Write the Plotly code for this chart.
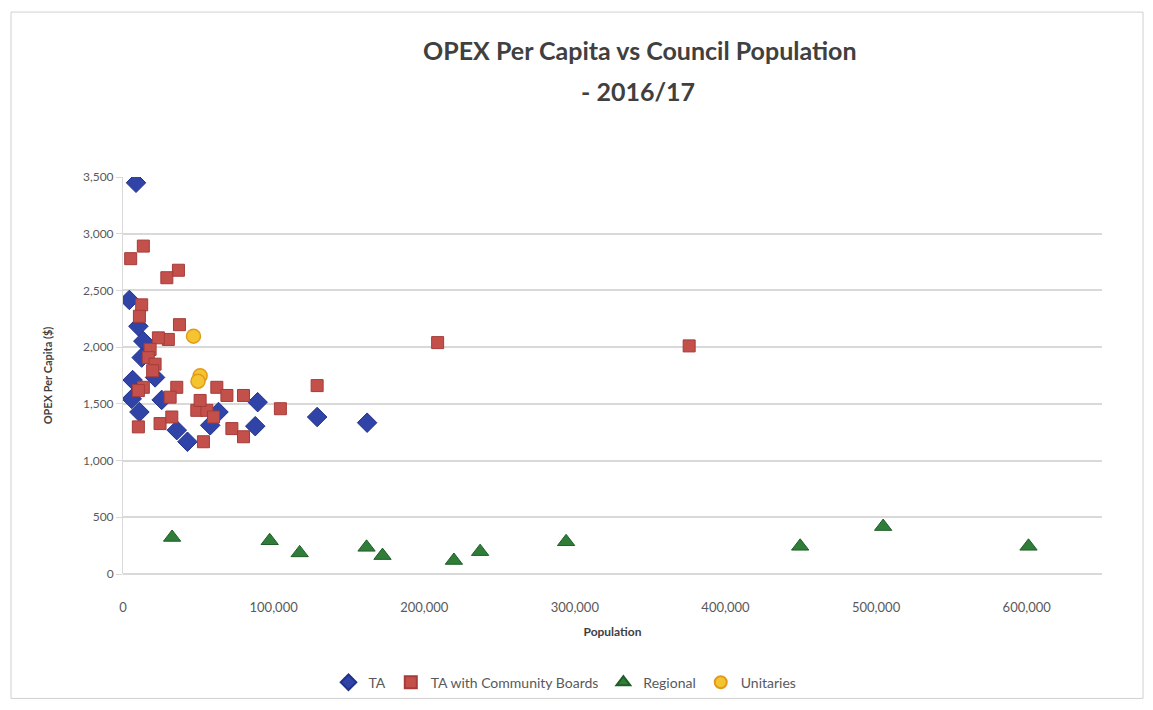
import plotly.graph_objects as go

# Council population vs operating expenditure per head, 2016/17
ta_pop = [8650, 4200, 10200, 13500, 12400, 21300, 6400, 5800, 25700, 10900,
          35700, 42800, 57900, 63400, 89400, 87800, 128900, 162100]
ta_opex = [3449, 2416, 2184, 2053, 1908, 1733, 1710, 1544, 1535, 1428,
           1268, 1166, 1311, 1428, 1515, 1303, 1384, 1334]

tacb_pop = [13500, 5100, 36800, 29100, 12400, 10900, 37500, 30100, 23500, 18000,
            16800, 21300, 19700, 13500, 10200, 35700, 62300, 31300, 69000, 80000,
            10200, 24600, 32400, 49000, 55700, 51200, 60100, 53400, 72300, 80000,
            104500, 128900, 208900, 375900]
tacb_opex = [2891, 2780, 2678, 2612, 2373, 2272, 2198, 2068, 2082, 1980,
             1908, 1850, 1792, 1646, 1617, 1646, 1646, 1559, 1574, 1574,
             1297, 1326, 1384, 1443, 1443, 1530, 1384, 1166, 1282, 1210,
             1457, 1661, 2040, 2011]

reg_pop = [32600, 97400, 117300, 161700, 172300, 219700, 237100, 294200,
           449600, 504700, 601200]
reg_opex = [322, 293, 186, 235, 162, 119, 197, 284, 244, 418, 244]

uni_pop = [46800, 51200, 49800]
uni_opex = [2097, 1748, 1700]

y_ticks = [0, 500, 1000, 1500, 2000, 2500, 3000, 3500]
x_ticks = [0, 100000, 200000, 300000, 400000, 500000, 600000]

W, H = 1153, 710
L, R, T, B = 123, 51, 177, 131
FONT = "Lato"
GREY = "#595959"
DARK = "#404040"

fig = go.Figure()
fig.add_trace(go.Scatter(
    x=ta_pop, y=ta_opex, mode="markers", name="TA",
    marker=dict(symbol="diamond", size=15, color="#3044a8",
                line=dict(color="#22318a", width=1))))
fig.add_trace(go.Scatter(
    x=tacb_pop, y=tacb_opex, mode="markers", name="TA with Community Boards",
    marker=dict(symbol="square", size=12, color="#c4504c",
                line=dict(color="#a53c39", width=1))))
fig.add_trace(go.Scatter(
    x=reg_pop, y=reg_opex, mode="markers", name="Regional",
    marker=dict(symbol="triangle-up", size=15, color="#2f7d38",
                line=dict(color="#1f5e27", width=1))))
fig.add_trace(go.Scatter(
    x=uni_pop, y=uni_opex, mode="markers", name="Unitaries",
    marker=dict(symbol="circle", size=14, color="#f4c431",
                line=dict(color="#e39a1c", width=1.5))))

pw = W - L - R
ph = H - T - B


def px_x(px):
    return (px - L) / pw


def px_y(py):
    return (H - B - py) / ph


fig.update_layout(
    width=W, height=H,
    margin=dict(l=L, r=R, t=T, b=B),
    paper_bgcolor="white", plot_bgcolor="white",
    font=dict(family=FONT, color=GREY, size=12),
    showlegend=True,
    legend=dict(orientation="h", x=px_x(565), xanchor="center",
                y=px_y(689), yanchor="middle", itemsizing="constant",
                font=dict(size=14, color=GREY), itemwidth=30,
                bgcolor="rgba(0,0,0,0)"),
    xaxis=dict(range=[0, 650000], tickvals=x_ticks, tickformat=",",
               showgrid=False, zeroline=False, showline=False,
               ticks="", ticklabelstandoff=24,
               tickfont=dict(size=13, color=GREY),
               title=dict(text="<b>Population</b>", font=dict(size=12, color=DARK),
                          standoff=13)),
    yaxis=dict(range=[0, 3500], tickvals=y_ticks, tickformat=",",
               showgrid=True, gridcolor="#d9d9d9", gridwidth=1.5,
               zeroline=True, zerolinecolor="#d9d9d9", zerolinewidth=1.5,
               showline=True, linecolor="#d9d9d9", linewidth=1,
               ticks="outside", ticklen=6, tickcolor="#d9d9d9",
               tickfont=dict(size=12, color=GREY),
               title=dict(text="<b>OPEX Per Capita ($)</b>",
                          font=dict(size=11, color=DARK), standoff=28)),
    annotations=[
        dict(text="<b>OPEX Per Capita vs Council Population</b>",
             x=px_x(640), y=px_y(48), xref="paper", yref="paper",
             xanchor="center", yanchor="middle", showarrow=False,
             font=dict(size=25, color=DARK, family=FONT)),
        dict(text="<b>- 2016/17</b>",
             x=px_x(638), y=px_y(90), xref="paper", yref="paper",
             xanchor="center", yanchor="middle", showarrow=False,
             font=dict(size=25, color=DARK, family=FONT)),
    ],
    shapes=[
        dict(type="rect", xref="paper", yref="paper",
             x0=px_x(11), x1=px_x(1143), y0=px_y(705), y1=px_y(10),
             line=dict(color="#d0d0d0", width=1), fillcolor="rgba(0,0,0,0)",
             layer="below"),
    ],
)

fig.write_html("out.html")
